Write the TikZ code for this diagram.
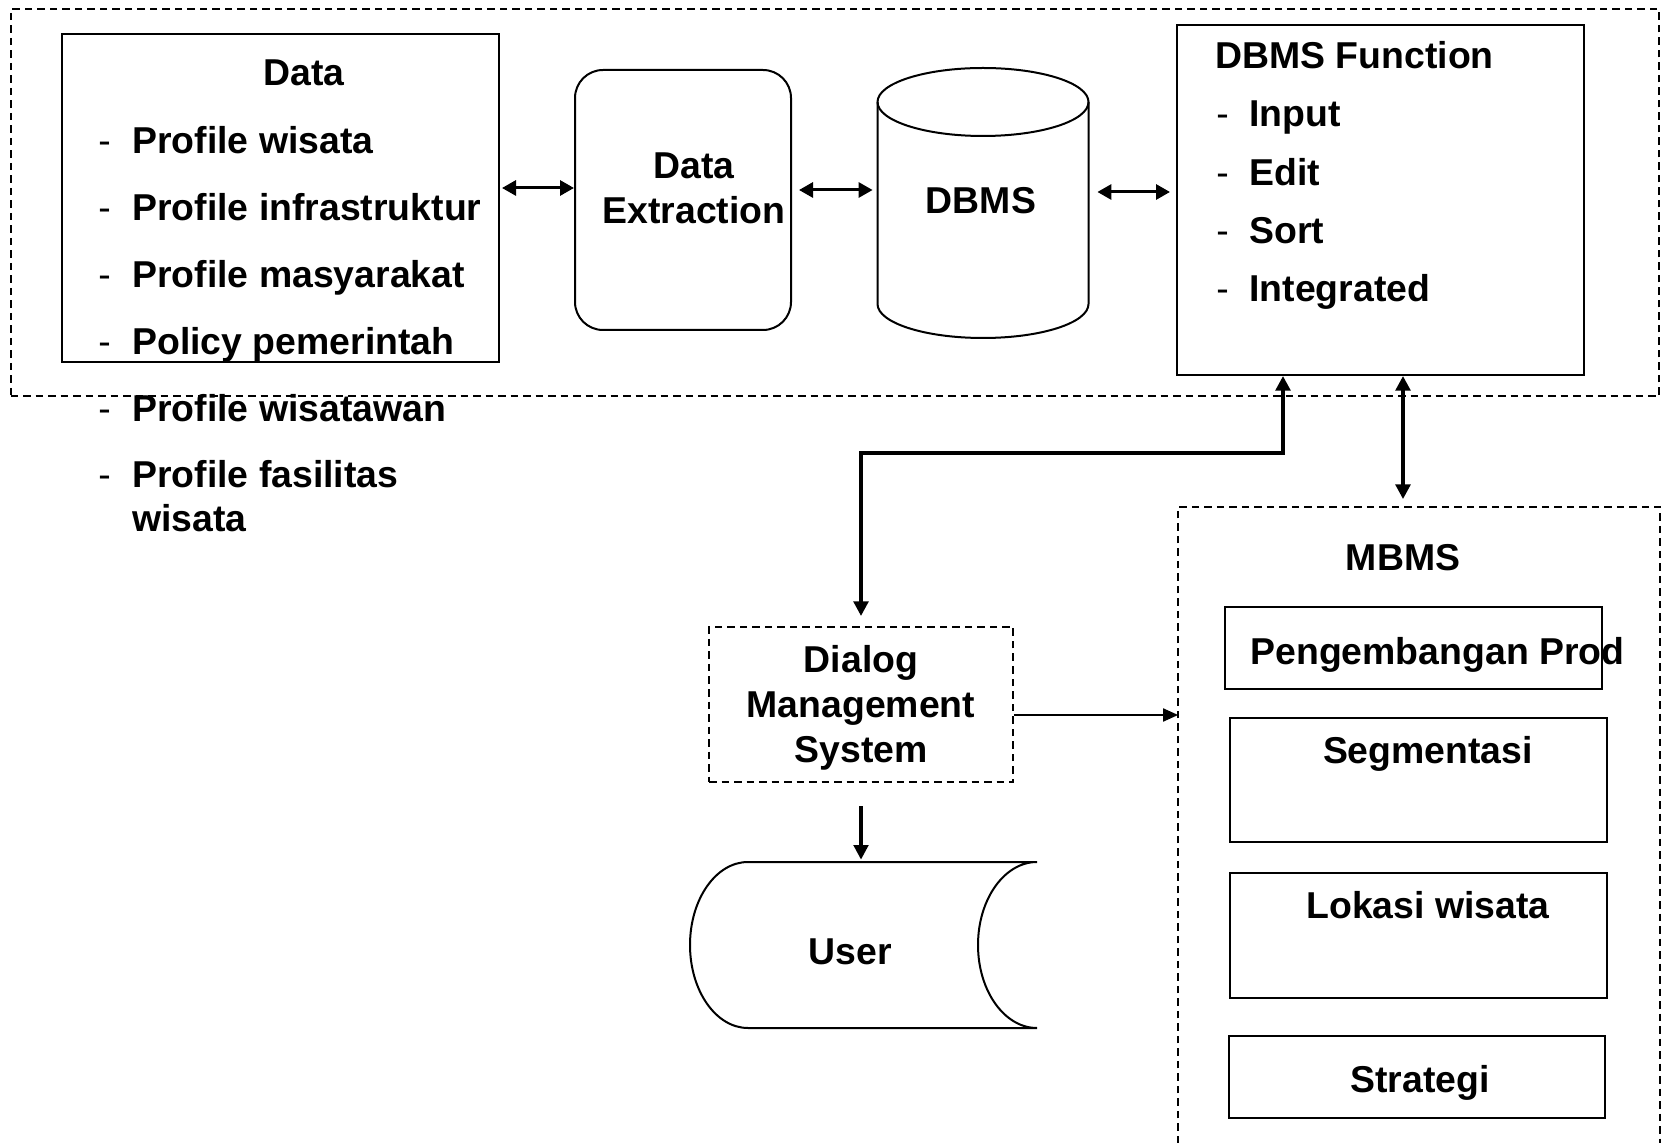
\documentclass[tikz,border=0pt]{standalone}
\usepackage{fontspec}
\setmainfont{Liberation Sans}
\usetikzlibrary{arrows.meta}
\begin{document}
\begin{tikzpicture}[x=0.5pt,y=-0.5pt,
  txt/.style={font=\fontsize{18.7}{22}\selectfont\bfseries, inner sep=0pt},
  box/.style={draw, line width=1pt, inner sep=0pt},
  dbox/.style={draw, line width=1pt, dash pattern=on 3.75pt off 2.5pt, inner sep=0pt},
  conn/.style={line width=1.6pt, -{Triangle[length=7.3pt,width=7.3pt]}},
  dconn/.style={line width=1.5pt, {Triangle[length=7pt,width=7.5pt]}-{Triangle[length=7pt,width=7.5pt]}},
  dconnb/.style={line width=1.75pt, {Triangle[length=7.3pt,width=7.3pt]}-{Triangle[length=7.3pt,width=7.3pt]}},
  tconn/.style={line width=1pt, -{Triangle[length=7.5pt,width=6.5pt]}},
]
\useasboundingbox (0,0) rectangle (1664,1143);

% containers and boxes
\node[dbox, minimum width=824.25pt, minimum height=193.5pt] (outer) at (834.75,203) {};
\node[box, minimum width=218.5pt, minimum height=164pt] (data) at (280.5,198) {};
\node[box, rounded corners=14pt, minimum width=108pt, minimum height=130pt] (de) at (683,200) {};
\node[inner sep=0pt, minimum width=105.5pt, minimum height=135pt] (dbms) at (983,203) {};
\node[box, minimum width=203.5pt, minimum height=175pt] (df) at (1380.5,200) {};
\node[dbox, minimum width=152pt, minimum height=77.5pt] (dms) at (861,704.5) {};
\node[inner sep=0pt, minimum width=173.5pt, minimum height=83pt] (user) at (863.5,945) {};
\node[inner sep=0pt, minimum width=240.75pt, minimum height=317.75pt] (mbms) at (1419.25,825.25) {};
\draw[line width=1pt, dash pattern=on 3.75pt off 2.5pt] (mbms.south west) -- (mbms.north west) -- (mbms.north east) -- (mbms.south east);
\node[box, minimum width=188.35pt, minimum height=41pt] (pp) at (1413.35,648) {};
\node[box, minimum width=188.35pt, minimum height=61.75pt] (seg) at (1418.35,779.75) {};
\node[box, minimum width=188.35pt, minimum height=62.5pt] (lok) at (1418.35,935.5) {};
\node[box, minimum width=188pt, minimum height=41pt] (str) at (1417,1077) {};

% DBMS cylinder
\draw[line width=1pt] (983,102) ellipse [x radius=52.75pt, y radius=17pt];
\draw[line width=1pt] (877.5,102) -- (877.5,304) arc[start angle=180, end angle=360, x radius=52.75pt, y radius=17pt] -- (1088.5,102);

% User stored-data shape
\draw[line width=1pt] (1037,862) -- (748,862) arc[start angle=90, end angle=270, x radius=29pt, y radius=41.5pt] -- (1037,1028) arc[start angle=270, end angle=90, x radius=29.5pt, y radius=41.5pt];

% texts
\node[txt, anchor=base] (tdata) at (304,86) {Data};
\node[txt, anchor=base west] (l1) at (98,154) {\makebox[17pt][l]{\mdseries-}Profile wisata};
\node[txt, anchor=base west] (l2) at (98,221) {\makebox[17pt][l]{\mdseries-}Profile infrastruktur};
\node[txt, anchor=base west] (l3) at (98,288) {\makebox[17pt][l]{\mdseries-}Profile masyarakat};
\node[txt, anchor=base west] (l4) at (98,355) {\makebox[17pt][l]{\mdseries-}Policy pemerintah};
\node[txt, anchor=base west] (l5) at (98,421.5) {\makebox[17pt][l]{\mdseries-}Profile wisatawan};
\node[txt, anchor=base west] (l6) at (98,488) {\makebox[17pt][l]{\mdseries-}Profile fasilitas};
\node[txt, anchor=base west] (l7) at (132,532) {wisata};

\node[txt, anchor=base] (tde1) at (694,179) {Data};
\node[txt, anchor=base] (tde2) at (694,223.5) {Extraction};
\node[txt, anchor=base] (tdbms) at (981,213.5) {DBMS};

\node[txt, anchor=base west] (tdf) at (1215,69) {DBMS Function};
\node[txt, anchor=base west] (f1) at (1216,127) {\makebox[16.5pt][l]{\mdseries-}Input};
\node[txt, anchor=base west] (f2) at (1216,185.5) {\makebox[16.5pt][l]{\mdseries-}Edit};
\node[txt, anchor=base west] (f3) at (1216,243.5) {\makebox[16.5pt][l]{\mdseries-}Sort};
\node[txt, anchor=base west] (f4) at (1216,301.7) {\makebox[16.5pt][l]{\mdseries-}Integrated};

\node[txt, anchor=base] (tmbms) at (1403,571) {MBMS};
\node[txt, anchor=base west] (tpp) at (1250,664) {Pengembangan Prod};
\node[txt, anchor=base] (tseg) at (1428,763) {Segmentasi};
\node[txt, anchor=base] (tlok) at (1428,918) {Lokasi wisata};
\node[txt, anchor=base] (tstr) at (1420,1092) {Strategi};

\node[txt, anchor=base] (tdms1) at (861,673) {Dialog};
\node[txt, anchor=base] (tdms2) at (861,718) {Management};
\node[txt, anchor=base] (tdms3) at (861,762) {System};
\node[txt, anchor=base] (tuser) at (850,964) {User};

% connectors
\coordinate (y1) at (0,188);
\coordinate (y2) at (0,190);
\coordinate (y3) at (0,192);
\draw[dconn, shorten <=1pt] (data.east |- y1) -- (de.west |- y1);
\draw[dconn, shorten <=3.5pt, shorten >=2.25pt] (de.east |- y2) -- (dbms.west |- y2);
\draw[dconn, shorten <=4.25pt, shorten >=3pt] (dbms.east |- y3) -- (df.west |- y3);

\coordinate (k1) at (1283,453);
\coordinate (k2) at (861,453);
\draw[dconnb, shorten >=5pt] (df.south -| k1) -- (k1) -- (k2) -- (dms.north);
\coordinate (k3) at (1403,0);
\draw[dconnb, shorten >=4pt] (df.south -| k3) -- (mbms.north -| k3);
\coordinate (k4) at (0,715);
\draw[tconn] (dms.east |- k4) -- (mbms.west |- k4);
\draw[conn, shorten <=11.5pt, shorten >=1pt] (dms.south) -- (dms.south |- user.north);
\end{tikzpicture}
\end{document}
